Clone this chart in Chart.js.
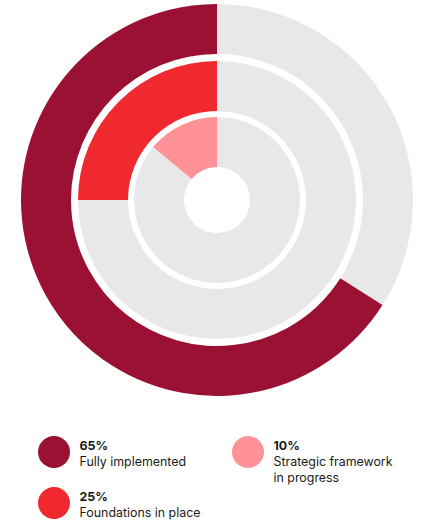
<!DOCTYPE html>
<html>
<head>
<meta charset="utf-8">
<script src="https://cdn.jsdelivr.net/npm/chart.js@4"></script>
<style>
  html, body { margin: 0; padding: 0; background: #fff; }
  body { width: 421px; height: 523px; position: relative; overflow: hidden; font-family: Inter, "Noto Sans", sans-serif; color: #1a1a1a; }
  #wrap { position: absolute; left: 20.7px; top: 4px; width: 392px; height: 392px; }
  .dot { position: absolute; width: 32px; height: 32px; border-radius: 50%; }
  .txt { position: absolute; font-size: 12.4px; line-height: 16px; white-space: nowrap; }
  .txt b { font-weight: 700; }
</style>
</head>
<body>
<div id="wrap"><canvas id="rings"></canvas></div>
<div id="legend"></div>
<script>
// outer ring first
const labels = ["Fully implemented", "Foundations in place", "Strategic framework\nin progress"];
const shares = ["65%", "25%", "10%"];      // as printed in the legend
const arcValues = [66, 25, 14];           // arc sizes as drawn in the picture
const colors = ["#9B1133", "#F0292F", "#FF9296"];
const restColor = "#E8E8E8";

const ringWeight = 50;
const gapWeights = [7, 6];

const datasets = [];
arcValues.forEach((v, i) => {
  datasets.push({
    data: [100 - v, v],
    backgroundColor: [restColor, colors[i]],
    borderWidth: 0,
    weight: ringWeight
  });
  if (i < gapWeights.length) {
    // white spacer between rings
    datasets.push({
      data: [1],
      backgroundColor: ["rgba(0,0,0,0)"],
      borderWidth: 0,
      weight: gapWeights[i]
    });
  }
});

new Chart(document.getElementById("rings"), {
  type: "doughnut",
  data: { labels: ["rest", "value"], datasets: datasets },
  options: {
    responsive: true,
    maintainAspectRatio: false,
    animation: false,
    cutout: 33,
    hoverOffset: 0,
    layout: { padding: 0 },
    plugins: { legend: { display: false }, tooltip: { enabled: false } }
  }
});

// legend
const spots = [
  { left: 38, top: 436 },
  { left: 38, top: 487 },
  { left: 232, top: 436 }
];
const legend = document.getElementById("legend");
labels.forEach((lab, i) => {
  const p = spots[i];
  const dot = document.createElement("div");
  dot.className = "dot";
  dot.style.left = p.left + "px";
  dot.style.top = p.top + "px";
  dot.style.background = colors[i];
  legend.appendChild(dot);

  const t = document.createElement("div");
  t.className = "txt";
  t.style.left = (p.left + 41.5) + "px";
  t.style.top = (p.top + 1.5) + "px";
  t.innerHTML = "<b>" + shares[i] + "</b><br>" + lab.replace("\n", "<br>");
  legend.appendChild(t);
});
</script>
</body>
</html>
